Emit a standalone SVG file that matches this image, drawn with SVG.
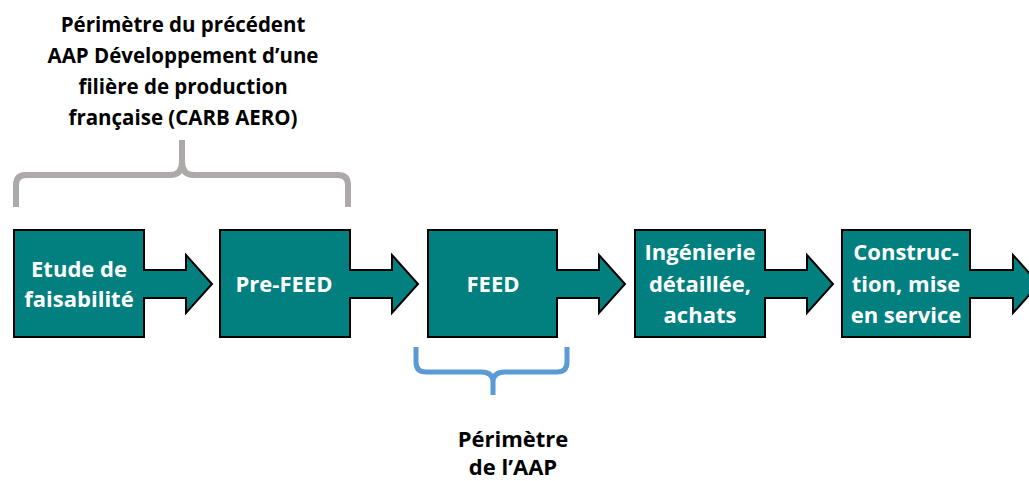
<svg xmlns="http://www.w3.org/2000/svg" width="1029" height="481" viewBox="0 0 1029 481">
<style>
.box{fill:#027F7F;stroke:#000;stroke-width:2;stroke-linejoin:miter}
.bt{font-family:"Open Sans","Liberation Sans",sans-serif;font-weight:bold;font-size:22px;fill:#fff;text-anchor:middle}
.lt{font-family:"Open Sans","Liberation Sans",sans-serif;font-weight:bold;font-size:20.5px;fill:#000;text-anchor:middle}
.lb{font-family:"Open Sans","Liberation Sans",sans-serif;font-weight:bold;font-size:22px;fill:#000;text-anchor:middle}
.brace{fill:none;stroke-linecap:butt;stroke-linejoin:round}
</style>
<rect width="1029" height="481" fill="#fff"/>
<g id="connectors">
<path class="brace" stroke="#ADA9A8" stroke-width="6" d="M16,207 L16,185 Q16,175 26,175 L170,175 Q182,175 182,162 L182,140 M182,162 Q182,175 194,175 L338,175 Q348,175 348,185 L348,207"/>
<path class="brace" stroke="#5B9BD5" stroke-width="5" d="M416,347 L416,362 Q416,372 426,372 L481,372 Q493,372 493,382 L493,395 M493,382 Q493,372 505,372 L557,372 Q567,372 567,362 L567,347"/>
</g>
<g id="n1">
<path class="box" d="M14,230 H144 V270 H186 V255 L212,284 L186,313 V298 H144 V337 H14 Z"/>
<text class="bt" x="79" y="277">Etude de</text>
<text class="bt" x="79" y="307">faisabilité</text>
</g>
<g id="n2">
<path class="box" d="M220,230 H350 V270 H392 V255 L418,284 L392,313 V298 H350 V337 H220 Z"/>
<text class="bt" x="284" y="292">Pre-FEED</text>
</g>
<g id="n3">
<path class="box" d="M428,230 H557 V270 H599 V255 L625,284 L599,313 V298 H557 V337 H428 Z"/>
<text class="bt" x="493" y="292">FEED</text>
</g>
<g id="n4">
<path class="box" d="M635,230 H765 V270 H807 V255 L833,284 L807,313 V298 H765 V337 H635 Z"/>
<text class="bt" x="700" y="260">Ingénierie</text>
<text class="bt" x="700" y="292">détaillée,</text>
<text class="bt" x="700" y="323">achats</text>
</g>
<g id="n5">
<path class="box" d="M842,230 H970 V270 H1013 V255 L1039,284 L1013,313 V298 H970 V337 H842 Z"/>
<text class="bt" x="906" y="260">Construc-</text>
<text class="bt" x="906" y="292">tion, mise</text>
<text class="bt" x="906" y="323">en service</text>
</g>
<g id="label-top">
<text class="lt" x="183" y="32">Périmètre du précédent</text>
<text class="lt" x="183" y="63">AAP Développement d’une</text>
<text class="lt" x="183" y="94">filière de production</text>
<text class="lt" x="183" y="125">française (CARB AERO)</text>
</g>
<g id="label-bottom">
<text class="lb" x="513" y="447">Périmètre</text>
<text class="lb" x="513" y="475">de l’AAP</text>
</g>
</svg>
